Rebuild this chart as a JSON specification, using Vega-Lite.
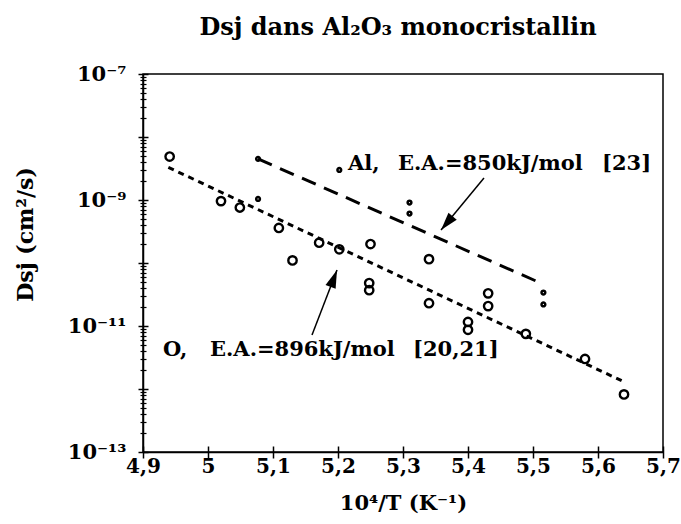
{
  "$schema": "https://vega.github.io/schema/vega-lite/v6.json",
  "width": 520,
  "height": 378,
  "autosize": "none",
  "padding": {"left": 143, "top": 74, "right": 18, "bottom": 72},
  "background": "white",
  "title": {"text": "Dsj dans Al₂O₃ monocristallin", "font": "DejaVu Serif", "fontWeight": "bold", "fontSize": 24, "color": "black", "anchor": "middle", "offset": 23, "dx": -5},
  "config": {"view": {"stroke": "black", "strokeWidth": 1.5}, "font": "DejaVu Serif"},
  "datasets": {
    "oxygen": [
      {"x": 4.941, "y": 4.9e-9},
      {"x": 5.020, "y": 9.6e-10},
      {"x": 5.049, "y": 7.6e-10},
      {"x": 5.109, "y": 3.6e-10},
      {"x": 5.130, "y": 1.1e-10},
      {"x": 5.171, "y": 2.1e-10},
      {"x": 5.202, "y": 1.65e-10},
      {"x": 5.250, "y": 2.0e-10},
      {"x": 5.248, "y": 4.8e-11},
      {"x": 5.248, "y": 3.7e-11},
      {"x": 5.340, "y": 1.15e-10},
      {"x": 5.340, "y": 2.3e-11},
      {"x": 5.400, "y": 1.16e-11},
      {"x": 5.400, "y": 8.7e-12},
      {"x": 5.431, "y": 3.3e-11},
      {"x": 5.431, "y": 2.07e-11},
      {"x": 5.489, "y": 7.5e-12},
      {"x": 5.580, "y": 3.0e-12},
      {"x": 5.640, "y": 8.2e-13}
    ],
    "aluminium": [
      {"x": 5.077, "y": 4.5e-9},
      {"x": 5.202, "y": 3.0e-9},
      {"x": 5.077, "y": 1.04e-9},
      {"x": 5.310, "y": 9.1e-10},
      {"x": 5.310, "y": 6.1e-10},
      {"x": 5.516, "y": 3.4e-11},
      {"x": 5.516, "y": 2.2e-11}
    ],
    "fitO": [
      {"x": 4.939, "y": 3.3e-9},
      {"x": 5.640, "y": 1.3e-12}
    ],
    "fitAl": [
      {"x": 5.077, "y": 4.5e-9},
      {"x": 5.516, "y": 4.6e-11}
    ],
    "labels": [
      {"x": 5.2154, "y": 3.0e-9, "text": "Al,"},
      {"x": 5.2923, "y": 3.0e-9, "text": "E.A.=850kJ/mol"},
      {"x": 5.6062, "y": 3.0e-9, "text": "[23]"},
      {"x": 4.9308, "y": 3.34e-12, "text": "O,"},
      {"x": 5.0031, "y": 3.34e-12, "text": "E.A.=896kJ/mol"},
      {"x": 5.3154, "y": 3.34e-12, "text": "[20,21]"}
    ],
    "arrows": [
      {"series": "Al", "x": 5.3585, "y": 3.34e-10, "x2": 5.4246, "y2": 2.23e-9},
      {"series": "O", "x": 5.1985, "y": 7.74e-11, "x2": 5.16, "y2": 7.2e-12}
    ]
  },
  "encoding": {
    "x": {"field": "x", "type": "quantitative", "scale": {"domain": [4.9, 5.7], "nice": false, "zero": false}, "axis": null},
    "y": {"field": "y", "type": "quantitative", "scale": {"type": "log", "domain": [1e-13, 1e-7], "nice": false}, "axis": null}
  },
  "resolve": {"axis": {"x": "independent", "y": "independent"}},
  "layer": [
    {
      "data": {"name": "oxygen"},
      "mark": {"type": "point", "shape": "circle", "filled": false, "size": 70, "strokeWidth": 2.4, "color": "black", "opacity": 1},
      "encoding": {
        "x": {"field": "x", "type": "quantitative", "scale": {"domain": [4.9, 5.7], "nice": false, "zero": false},
          "axis": {"orient": "bottom", "values": [4.9, 5.0, 5.1, 5.2, 5.3, 5.4, 5.5, 5.6, 5.7],
            "labelExpr": "replace(format(datum.value, '.1~f'), '.', ',')",
            "ticks": false, "grid": false, "domain": true, "domainColor": "black", "domainWidth": 1.5,
            "labelFont": "DejaVu Serif", "labelFontWeight": "bold", "labelFontSize": 20, "labelColor": "black",
            "labelPadding": 4, "labelFlush": false, "labelOverlap": false,
            "title": "10⁴/T (K⁻¹)", "titleFont": "DejaVu Serif", "titleFontWeight": "bold", "titleFontSize": 21, "titleColor": "black",
            "titleY": 51, "titleBaseline": "middle"}},
        "y": {"field": "y", "type": "quantitative", "scale": {"type": "log", "domain": [1e-13, 1e-7], "nice": false},
          "axis": {"orient": "left", "values": [1e-13, 1e-11, 1e-9, 1e-7],
            "labelExpr": "datum.value > 5e-8 ? '10⁻⁷' : datum.value > 5e-10 ? '10⁻⁹' : datum.value > 5e-12 ? '10⁻¹¹' : '10⁻¹³'",
            "ticks": false, "grid": false, "domain": true, "domainColor": "black", "domainWidth": 1.5,
            "labelFont": "DejaVu Serif", "labelFontWeight": "bold", "labelFontSize": 21, "labelColor": "black",
            "labelPadding": 17, "labelFlush": false, "labelOverlap": false,
            "title": "Dsj (cm²/s)", "titleFont": "DejaVu Serif", "titleFontWeight": "bold", "titleFontSize": 22, "titleColor": "black",
            "titleAngle": -90, "titleAlign": "center", "titleBaseline": "middle", "titleX": -118, "titleY": 160}}
      }
    },
    {
      "data": {"name": "aluminium"},
      "mark": {"type": "point", "shape": "circle", "filled": false, "size": 14, "strokeWidth": 2.5, "color": "black", "opacity": 1},
      "encoding": {
        "x": {"field": "x", "type": "quantitative", "scale": {"domain": [4.9, 5.7], "nice": false, "zero": false},
          "axis": {"orient": "bottom", "offset": -6, "tickSize": 12, "tickWidth": 1.5, "tickColor": "black",
            "values": [4.9, 5.0, 5.1, 5.2, 5.3, 5.4, 5.5, 5.6, 5.7],
            "domain": false, "labels": false, "grid": false, "title": null}},
        "y": {"field": "y", "type": "quantitative", "scale": {"type": "log", "domain": [1e-13, 1e-7], "nice": false},
          "axis": {"orient": "left", "offset": -5, "tickSize": 10, "tickWidth": 1.5, "tickColor": "black",
            "values": [1e-13, 1e-12, 1e-11, 1e-10, 1e-9, 1e-8, 1e-7],
            "domain": false, "labels": false, "grid": false, "title": null}}
      }
    },
    {
      "data": {"name": "fitO"},
      "mark": {"type": "line", "color": "black", "strokeWidth": 3, "strokeDash": [6, 5]},
      "encoding": {
        "y": {"field": "y", "type": "quantitative", "scale": {"type": "log", "domain": [1e-13, 1e-7], "nice": false},
          "axis": {"orient": "left", "offset": -3, "tickSize": 6, "tickWidth": 1.2, "tickColor": "black",
            "values": [2e-13, 3e-13, 4e-13, 5e-13, 6e-13, 7e-13, 8e-13, 9e-13,
                       2e-12, 3e-12, 4e-12, 5e-12, 6e-12, 7e-12, 8e-12, 9e-12,
                       2e-11, 3e-11, 4e-11, 5e-11, 6e-11, 7e-11, 8e-11, 9e-11,
                       2e-10, 3e-10, 4e-10, 5e-10, 6e-10, 7e-10, 8e-10, 9e-10,
                       2e-9, 3e-9, 4e-9, 5e-9, 6e-9, 7e-9, 8e-9, 9e-9,
                       2e-8, 3e-8, 4e-8, 5e-8, 6e-8, 7e-8, 8e-8, 9e-8],
            "domain": false, "labels": false, "grid": false, "title": null}}
      }
    },
    {
      "data": {"name": "fitAl"},
      "mark": {"type": "line", "color": "black", "strokeWidth": 3, "strokeDash": [15, 9]}
    },
    {
      "data": {"name": "arrows"},
      "mark": {"type": "rule", "color": "black", "strokeWidth": 1.5},
      "encoding": {
        "x2": {"field": "x2"},
        "y2": {"field": "y2"}
      }
    },
    {
      "data": {"name": "arrows"},
      "transform": [{"filter": "datum.series == 'Al'"}],
      "mark": {"type": "point", "shape": "M0,0L0.6,2L-0.6,2Z", "filled": true, "size": 324, "color": "black", "opacity": 1, "angle": 220},
      "encoding": {}
    },
    {
      "data": {"name": "arrows"},
      "transform": [{"filter": "datum.series == 'O'"}],
      "mark": {"type": "point", "shape": "M0,0L0.6,2L-0.6,2Z", "filled": true, "size": 324, "color": "black", "opacity": 1, "angle": 21},
      "encoding": {}
    },
    {
      "data": {"name": "labels"},
      "mark": {"type": "text", "align": "left", "baseline": "alphabetic", "font": "DejaVu Serif", "fontWeight": "bold", "fontSize": 21, "color": "black"},
      "encoding": {
        "text": {"field": "text"}
      }
    }
  ]
}
